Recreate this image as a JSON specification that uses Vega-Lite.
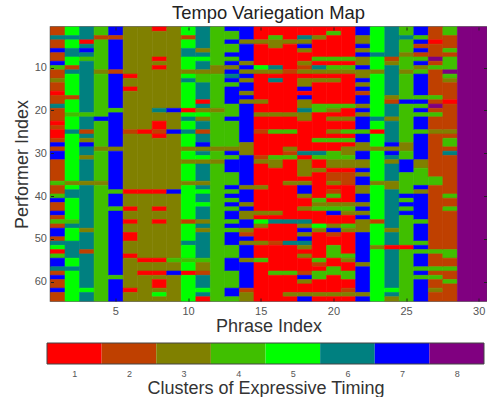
{"$schema":"https://vega.github.io/schema/vega-lite/v6.json","padding":{"left":12.5,"top":3,"right":0,"bottom":0},"spacing":6,"background":"white","config":{"font":"Liberation Sans"},"vconcat":[{"width":436,"height":274,"title":{"text":"Tempo Variegation Map","fontSize":18.4,"fontWeight":"normal","color":"#222222","font":"Liberation Sans","offset":4,"anchor":"middle"},"view":{"stroke":"#444444","strokeWidth":1.5},"resolve":{"axis":{"x":"independent","y":"independent"}},"layer":[{"data":{"values":[
{"p":1,"a":0.5,"b":2.5,"c":2},{"p":1,"a":2.5,"b":3.5,"c":6},{"p":1,"a":3.5,"b":5.5,"c":2},{"p":1,"a":5.5,"b":6.5,"c":7},{"p":1,"a":6.5,"b":8.5,"c":2},{"p":1,"a":8.5,"b":9.5,"c":7},{"p":1,"a":9.5,"b":10.5,"c":4},{"p":1,"a":10.5,"b":12.5,"c":2},{"p":1,"a":12.5,"b":13.5,"c":3},{"p":1,"a":13.5,"b":15.5,"c":2},{"p":1,"a":15.5,"b":16.5,"c":1},{"p":1,"a":16.5,"b":18.5,"c":2},{"p":1,"a":18.5,"b":19.5,"c":6},{"p":1,"a":19.5,"b":22.5,"c":2},{"p":1,"a":22.5,"b":23.5,"c":1},{"p":1,"a":23.5,"b":24.5,"c":2},{"p":1,"a":24.5,"b":26.5,"c":1},{"p":1,"a":26.5,"b":27.5,"c":2},{"p":1,"a":27.5,"b":28.5,"c":7},{"p":1,"a":28.5,"b":29.5,"c":2},{"p":1,"a":29.5,"b":31.5,"c":7},{"p":1,"a":31.5,"b":36.5,"c":2},{"p":1,"a":36.5,"b":37.5,"c":4},{"p":1,"a":37.5,"b":39.5,"c":2},{"p":1,"a":39.5,"b":40.5,"c":4},{"p":1,"a":40.5,"b":41.5,"c":7},{"p":1,"a":41.5,"b":43.5,"c":2},{"p":1,"a":43.5,"b":44.5,"c":7},{"p":1,"a":44.5,"b":45.5,"c":2},{"p":1,"a":45.5,"b":46.5,"c":4},{"p":1,"a":46.5,"b":47.5,"c":2},{"p":1,"a":47.5,"b":49.5,"c":7},{"p":1,"a":49.5,"b":50.5,"c":2},{"p":1,"a":50.5,"b":51.5,"c":6},{"p":1,"a":51.5,"b":52.5,"c":5},{"p":1,"a":52.5,"b":53.5,"c":1},{"p":1,"a":53.5,"b":54.5,"c":4},{"p":1,"a":54.5,"b":56.5,"c":7},{"p":1,"a":56.5,"b":57.5,"c":6},{"p":1,"a":57.5,"b":58.5,"c":2},{"p":1,"a":58.5,"b":59.5,"c":7},{"p":1,"a":59.5,"b":61.5,"c":2},{"p":1,"a":61.5,"b":62.5,"c":7},{"p":1,"a":62.5,"b":64.5,"c":2},
{"p":2,"a":0.5,"b":2.5,"c":5},{"p":2,"a":2.5,"b":3.5,"c":6},{"p":2,"a":3.5,"b":5.5,"c":5},{"p":2,"a":5.5,"b":7.5,"c":6},{"p":2,"a":7.5,"b":9.5,"c":5},{"p":2,"a":9.5,"b":10.5,"c":2},{"p":2,"a":10.5,"b":11.5,"c":6},{"p":2,"a":11.5,"b":16.5,"c":5},{"p":2,"a":16.5,"b":17.5,"c":2},{"p":2,"a":17.5,"b":20.5,"c":5},{"p":2,"a":20.5,"b":21.5,"c":4},{"p":2,"a":21.5,"b":24.5,"c":5},{"p":2,"a":24.5,"b":25.5,"c":6},{"p":2,"a":25.5,"b":36.5,"c":5},{"p":2,"a":36.5,"b":37.5,"c":3},{"p":2,"a":37.5,"b":38.5,"c":5},{"p":2,"a":38.5,"b":40.5,"c":6},{"p":2,"a":40.5,"b":45.5,"c":5},{"p":2,"a":45.5,"b":46.5,"c":4},{"p":2,"a":46.5,"b":47.5,"c":6},{"p":2,"a":47.5,"b":50.5,"c":5},{"p":2,"a":50.5,"b":54.5,"c":6},{"p":2,"a":54.5,"b":56.5,"c":5},{"p":2,"a":56.5,"b":57.5,"c":6},{"p":2,"a":57.5,"b":64.5,"c":5},
{"p":3,"a":0.5,"b":3.5,"c":6},{"p":3,"a":3.5,"b":4.5,"c":1},{"p":3,"a":4.5,"b":5.5,"c":6},{"p":3,"a":5.5,"b":6.5,"c":7},{"p":3,"a":6.5,"b":7.5,"c":6},{"p":3,"a":7.5,"b":8.5,"c":4},{"p":3,"a":8.5,"b":20.5,"c":6},{"p":3,"a":20.5,"b":21.5,"c":4},{"p":3,"a":21.5,"b":24.5,"c":6},{"p":3,"a":24.5,"b":25.5,"c":2},{"p":3,"a":25.5,"b":26.5,"c":6},{"p":3,"a":26.5,"b":27.5,"c":3},{"p":3,"a":27.5,"b":28.5,"c":7},{"p":3,"a":28.5,"b":30.5,"c":6},{"p":3,"a":30.5,"b":31.5,"c":3},{"p":3,"a":31.5,"b":36.5,"c":6},{"p":3,"a":36.5,"b":37.5,"c":3},{"p":3,"a":37.5,"b":47.5,"c":6},{"p":3,"a":47.5,"b":48.5,"c":3},{"p":3,"a":48.5,"b":52.5,"c":6},{"p":3,"a":52.5,"b":53.5,"c":2},{"p":3,"a":53.5,"b":61.5,"c":6},{"p":3,"a":61.5,"b":62.5,"c":5},{"p":3,"a":62.5,"b":64.5,"c":6},
{"p":4,"a":0.5,"b":2.5,"c":4},{"p":4,"a":2.5,"b":3.5,"c":2},{"p":4,"a":3.5,"b":10.5,"c":4},{"p":4,"a":10.5,"b":11.5,"c":3},{"p":4,"a":11.5,"b":21.5,"c":4},{"p":4,"a":21.5,"b":22.5,"c":7},{"p":4,"a":22.5,"b":28.5,"c":4},{"p":4,"a":28.5,"b":29.5,"c":3},{"p":4,"a":29.5,"b":36.5,"c":4},{"p":4,"a":36.5,"b":37.5,"c":3},{"p":4,"a":37.5,"b":64.5,"c":4},
{"p":5,"a":0.5,"b":2.5,"c":7},{"p":5,"a":2.5,"b":3.5,"c":2},{"p":5,"a":3.5,"b":10.5,"c":7},{"p":5,"a":10.5,"b":11.5,"c":2},{"p":5,"a":11.5,"b":19.5,"c":7},{"p":5,"a":19.5,"b":20.5,"c":4},{"p":5,"a":20.5,"b":28.5,"c":7},{"p":5,"a":28.5,"b":29.5,"c":3},{"p":5,"a":29.5,"b":38.5,"c":7},{"p":5,"a":38.5,"b":39.5,"c":4},{"p":5,"a":39.5,"b":42.5,"c":7},{"p":5,"a":42.5,"b":43.5,"c":4},{"p":5,"a":43.5,"b":58.5,"c":7},{"p":5,"a":58.5,"b":59.5,"c":4},{"p":5,"a":59.5,"b":64.5,"c":7},
{"p":6,"a":0.5,"b":11.5,"c":3},{"p":6,"a":11.5,"b":12.5,"c":1},{"p":6,"a":12.5,"b":14.5,"c":3},{"p":6,"a":14.5,"b":15.5,"c":1},{"p":6,"a":15.5,"b":24.5,"c":3},{"p":6,"a":24.5,"b":25.5,"c":2},{"p":6,"a":25.5,"b":38.5,"c":3},{"p":6,"a":38.5,"b":39.5,"c":1},{"p":6,"a":39.5,"b":42.5,"c":3},{"p":6,"a":42.5,"b":43.5,"c":1},{"p":6,"a":43.5,"b":45.5,"c":3},{"p":6,"a":45.5,"b":46.5,"c":1},{"p":6,"a":46.5,"b":48.5,"c":3},{"p":6,"a":48.5,"b":50.5,"c":1},{"p":6,"a":50.5,"b":53.5,"c":3},{"p":6,"a":53.5,"b":54.5,"c":1},{"p":6,"a":54.5,"b":61.5,"c":3},{"p":6,"a":61.5,"b":62.5,"c":1},{"p":6,"a":62.5,"b":64.5,"c":3},
{"p":7,"a":0.5,"b":24.5,"c":3},{"p":7,"a":24.5,"b":25.5,"c":1},{"p":7,"a":25.5,"b":38.5,"c":3},{"p":7,"a":38.5,"b":39.5,"c":1},{"p":7,"a":39.5,"b":54.5,"c":3},{"p":7,"a":54.5,"b":55.5,"c":1},{"p":7,"a":55.5,"b":57.5,"c":3},{"p":7,"a":57.5,"b":58.5,"c":1},{"p":7,"a":58.5,"b":64.5,"c":3},
{"p":8,"a":0.5,"b":1.5,"c":1},{"p":8,"a":1.5,"b":7.5,"c":3},{"p":8,"a":7.5,"b":8.5,"c":1},{"p":8,"a":8.5,"b":9.5,"c":3},{"p":8,"a":9.5,"b":10.5,"c":1},{"p":8,"a":10.5,"b":19.5,"c":3},{"p":8,"a":19.5,"b":20.5,"c":6},{"p":8,"a":20.5,"b":22.5,"c":3},{"p":8,"a":22.5,"b":24.5,"c":1},{"p":8,"a":24.5,"b":25.5,"c":2},{"p":8,"a":25.5,"b":26.5,"c":1},{"p":8,"a":26.5,"b":38.5,"c":3},{"p":8,"a":38.5,"b":39.5,"c":1},{"p":8,"a":39.5,"b":42.5,"c":3},{"p":8,"a":42.5,"b":43.5,"c":1},{"p":8,"a":43.5,"b":45.5,"c":3},{"p":8,"a":45.5,"b":46.5,"c":1},{"p":8,"a":46.5,"b":54.5,"c":3},{"p":8,"a":54.5,"b":55.5,"c":1},{"p":8,"a":55.5,"b":57.5,"c":3},{"p":8,"a":57.5,"b":58.5,"c":1},{"p":8,"a":58.5,"b":59.5,"c":3},{"p":8,"a":59.5,"b":61.5,"c":1},{"p":8,"a":61.5,"b":62.5,"c":3},{"p":8,"a":62.5,"b":63.5,"c":5},{"p":8,"a":63.5,"b":64.5,"c":3},
{"p":9,"a":0.5,"b":19.5,"c":3},{"p":9,"a":19.5,"b":20.5,"c":7},{"p":9,"a":20.5,"b":24.5,"c":3},{"p":9,"a":24.5,"b":25.5,"c":7},{"p":9,"a":25.5,"b":38.5,"c":3},{"p":9,"a":38.5,"b":39.5,"c":7},{"p":9,"a":39.5,"b":54.5,"c":3},{"p":9,"a":54.5,"b":55.5,"c":4},{"p":9,"a":55.5,"b":57.5,"c":3},{"p":9,"a":57.5,"b":58.5,"c":7},{"p":9,"a":58.5,"b":64.5,"c":3},
{"p":10,"a":0.5,"b":2.5,"c":5},{"p":10,"a":2.5,"b":3.5,"c":2},{"p":10,"a":3.5,"b":5.5,"c":5},{"p":10,"a":5.5,"b":7.5,"c":6},{"p":10,"a":7.5,"b":10.5,"c":5},{"p":10,"a":10.5,"b":11.5,"c":3},{"p":10,"a":11.5,"b":12.5,"c":5},{"p":10,"a":12.5,"b":13.5,"c":6},{"p":10,"a":13.5,"b":19.5,"c":5},{"p":10,"a":19.5,"b":20.5,"c":1},{"p":10,"a":20.5,"b":21.5,"c":5},{"p":10,"a":21.5,"b":22.5,"c":6},{"p":10,"a":22.5,"b":24.5,"c":5},{"p":10,"a":24.5,"b":25.5,"c":6},{"p":10,"a":25.5,"b":28.5,"c":5},{"p":10,"a":28.5,"b":29.5,"c":3},{"p":10,"a":29.5,"b":31.5,"c":5},{"p":10,"a":31.5,"b":32.5,"c":3},{"p":10,"a":32.5,"b":36.5,"c":5},{"p":10,"a":36.5,"b":37.5,"c":3},{"p":10,"a":37.5,"b":45.5,"c":5},{"p":10,"a":45.5,"b":46.5,"c":2},{"p":10,"a":46.5,"b":50.5,"c":5},{"p":10,"a":50.5,"b":51.5,"c":6},{"p":10,"a":51.5,"b":54.5,"c":5},{"p":10,"a":54.5,"b":55.5,"c":4},{"p":10,"a":55.5,"b":57.5,"c":5},{"p":10,"a":57.5,"b":58.5,"c":1},{"p":10,"a":58.5,"b":64.5,"c":5},
{"p":11,"a":0.5,"b":5.5,"c":6},{"p":11,"a":5.5,"b":6.5,"c":3},{"p":11,"a":6.5,"b":7.5,"c":6},{"p":11,"a":7.5,"b":8.5,"c":5},{"p":11,"a":8.5,"b":10.5,"c":6},{"p":11,"a":10.5,"b":11.5,"c":3},{"p":11,"a":11.5,"b":13.5,"c":4},{"p":11,"a":13.5,"b":17.5,"c":6},{"p":11,"a":17.5,"b":18.5,"c":1},{"p":11,"a":18.5,"b":19.5,"c":6},{"p":11,"a":19.5,"b":20.5,"c":3},{"p":11,"a":20.5,"b":21.5,"c":5},{"p":11,"a":21.5,"b":22.5,"c":3},{"p":11,"a":22.5,"b":24.5,"c":6},{"p":11,"a":24.5,"b":25.5,"c":2},{"p":11,"a":25.5,"b":27.5,"c":6},{"p":11,"a":27.5,"b":28.5,"c":7},{"p":11,"a":28.5,"b":29.5,"c":3},{"p":11,"a":29.5,"b":30.5,"c":6},{"p":11,"a":30.5,"b":31.5,"c":5},{"p":11,"a":31.5,"b":32.5,"c":3},{"p":11,"a":32.5,"b":36.5,"c":6},{"p":11,"a":36.5,"b":37.5,"c":3},{"p":11,"a":37.5,"b":38.5,"c":6},{"p":11,"a":38.5,"b":39.5,"c":5},{"p":11,"a":39.5,"b":41.5,"c":6},{"p":11,"a":41.5,"b":42.5,"c":5},{"p":11,"a":42.5,"b":45.5,"c":6},{"p":11,"a":45.5,"b":46.5,"c":3},{"p":11,"a":46.5,"b":47.5,"c":6},{"p":11,"a":47.5,"b":48.5,"c":3},{"p":11,"a":48.5,"b":54.5,"c":6},{"p":11,"a":54.5,"b":55.5,"c":4},{"p":11,"a":55.5,"b":57.5,"c":3},{"p":11,"a":57.5,"b":58.5,"c":2},{"p":11,"a":58.5,"b":61.5,"c":6},{"p":11,"a":61.5,"b":62.5,"c":5},{"p":11,"a":62.5,"b":63.5,"c":6},{"p":11,"a":63.5,"b":64.5,"c":1},
{"p":12,"a":0.5,"b":9.5,"c":4},{"p":12,"a":9.5,"b":11.5,"c":3},{"p":12,"a":11.5,"b":19.5,"c":4},{"p":12,"a":19.5,"b":20.5,"c":3},{"p":12,"a":20.5,"b":28.5,"c":4},{"p":12,"a":28.5,"b":29.5,"c":3},{"p":12,"a":29.5,"b":31.5,"c":4},{"p":12,"a":31.5,"b":32.5,"c":3},{"p":12,"a":32.5,"b":64.5,"c":4},
{"p":13,"a":0.5,"b":1.5,"c":7},{"p":13,"a":1.5,"b":3.5,"c":4},{"p":13,"a":3.5,"b":4.5,"c":7},{"p":13,"a":4.5,"b":6.5,"c":4},{"p":13,"a":6.5,"b":7.5,"c":7},{"p":13,"a":7.5,"b":8.5,"c":4},{"p":13,"a":8.5,"b":9.5,"c":7},{"p":13,"a":9.5,"b":10.5,"c":3},{"p":13,"a":10.5,"b":11.5,"c":7},{"p":13,"a":11.5,"b":12.5,"c":6},{"p":13,"a":12.5,"b":13.5,"c":7},{"p":13,"a":13.5,"b":14.5,"c":4},{"p":13,"a":14.5,"b":18.5,"c":7},{"p":13,"a":18.5,"b":21.5,"c":4},{"p":13,"a":21.5,"b":22.5,"c":7},{"p":13,"a":22.5,"b":28.5,"c":4},{"p":13,"a":28.5,"b":29.5,"c":3},{"p":13,"a":29.5,"b":30.5,"c":7},{"p":13,"a":30.5,"b":31.5,"c":4},{"p":13,"a":31.5,"b":34.5,"c":7},{"p":13,"a":34.5,"b":37.5,"c":4},{"p":13,"a":37.5,"b":38.5,"c":7},{"p":13,"a":38.5,"b":39.5,"c":4},{"p":13,"a":39.5,"b":40.5,"c":7},{"p":13,"a":40.5,"b":41.5,"c":4},{"p":13,"a":41.5,"b":42.5,"c":7},{"p":13,"a":42.5,"b":43.5,"c":4},{"p":13,"a":43.5,"b":45.5,"c":7},{"p":13,"a":45.5,"b":46.5,"c":4},{"p":13,"a":46.5,"b":47.5,"c":7},{"p":13,"a":47.5,"b":48.5,"c":4},{"p":13,"a":48.5,"b":51.5,"c":7},{"p":13,"a":51.5,"b":54.5,"c":4},{"p":13,"a":54.5,"b":57.5,"c":7},{"p":13,"a":57.5,"b":61.5,"c":4},{"p":13,"a":61.5,"b":63.5,"c":7},{"p":13,"a":63.5,"b":64.5,"c":4},
{"p":14,"a":0.5,"b":3.5,"c":7},{"p":14,"a":3.5,"b":4.5,"c":3},{"p":14,"a":4.5,"b":8.5,"c":7},{"p":14,"a":8.5,"b":9.5,"c":3},{"p":14,"a":9.5,"b":10.5,"c":7},{"p":14,"a":10.5,"b":11.5,"c":3},{"p":14,"a":11.5,"b":12.5,"c":7},{"p":14,"a":12.5,"b":13.5,"c":3},{"p":14,"a":13.5,"b":15.5,"c":7},{"p":14,"a":15.5,"b":16.5,"c":3},{"p":14,"a":16.5,"b":17.5,"c":7},{"p":14,"a":17.5,"b":18.5,"c":3},{"p":14,"a":18.5,"b":27.5,"c":7},{"p":14,"a":27.5,"b":30.5,"c":3},{"p":14,"a":30.5,"b":37.5,"c":7},{"p":14,"a":37.5,"b":38.5,"c":3},{"p":14,"a":38.5,"b":41.5,"c":7},{"p":14,"a":41.5,"b":42.5,"c":3},{"p":14,"a":42.5,"b":43.5,"c":7},{"p":14,"a":43.5,"b":45.5,"c":3},{"p":14,"a":45.5,"b":47.5,"c":7},{"p":14,"a":47.5,"b":48.5,"c":3},{"p":14,"a":48.5,"b":49.5,"c":2},{"p":14,"a":49.5,"b":50.5,"c":7},{"p":14,"a":50.5,"b":51.5,"c":3},{"p":14,"a":51.5,"b":54.5,"c":7},{"p":14,"a":54.5,"b":55.5,"c":3},{"p":14,"a":55.5,"b":61.5,"c":7},{"p":14,"a":61.5,"b":62.5,"c":2},{"p":14,"a":62.5,"b":64.5,"c":3},
{"p":15,"a":0.5,"b":3.5,"c":1},{"p":15,"a":3.5,"b":4.5,"c":3},{"p":15,"a":4.5,"b":9.5,"c":1},{"p":15,"a":9.5,"b":10.5,"c":5},{"p":15,"a":10.5,"b":11.5,"c":3},{"p":15,"a":11.5,"b":17.5,"c":1},{"p":15,"a":17.5,"b":18.5,"c":3},{"p":15,"a":18.5,"b":20.5,"c":1},{"p":15,"a":20.5,"b":21.5,"c":3},{"p":15,"a":21.5,"b":24.5,"c":1},{"p":15,"a":24.5,"b":25.5,"c":2},{"p":15,"a":25.5,"b":30.5,"c":1},{"p":15,"a":30.5,"b":31.5,"c":2},{"p":15,"a":31.5,"b":32.5,"c":3},{"p":15,"a":32.5,"b":37.5,"c":1},{"p":15,"a":37.5,"b":38.5,"c":3},{"p":15,"a":38.5,"b":43.5,"c":1},{"p":15,"a":43.5,"b":44.5,"c":3},{"p":15,"a":44.5,"b":45.5,"c":1},{"p":15,"a":45.5,"b":46.5,"c":5},{"p":15,"a":46.5,"b":47.5,"c":3},{"p":15,"a":47.5,"b":50.5,"c":1},{"p":15,"a":50.5,"b":51.5,"c":3},{"p":15,"a":51.5,"b":54.5,"c":1},{"p":15,"a":54.5,"b":55.5,"c":4},{"p":15,"a":55.5,"b":64.5,"c":1},
{"p":16,"a":0.5,"b":2.5,"c":1},{"p":16,"a":2.5,"b":3.5,"c":4},{"p":16,"a":3.5,"b":5.5,"c":3},{"p":16,"a":5.5,"b":9.5,"c":1},{"p":16,"a":9.5,"b":10.5,"c":6},{"p":16,"a":10.5,"b":11.5,"c":3},{"p":16,"a":11.5,"b":12.5,"c":1},{"p":16,"a":12.5,"b":13.5,"c":6},{"p":16,"a":13.5,"b":20.5,"c":1},{"p":16,"a":20.5,"b":21.5,"c":3},{"p":16,"a":21.5,"b":24.5,"c":1},{"p":16,"a":24.5,"b":25.5,"c":4},{"p":16,"a":25.5,"b":30.5,"c":1},{"p":16,"a":30.5,"b":31.5,"c":4},{"p":16,"a":31.5,"b":33.5,"c":3},{"p":16,"a":33.5,"b":43.5,"c":1},{"p":16,"a":43.5,"b":44.5,"c":3},{"p":16,"a":44.5,"b":45.5,"c":1},{"p":16,"a":45.5,"b":46.5,"c":6},{"p":16,"a":46.5,"b":50.5,"c":1},{"p":16,"a":50.5,"b":51.5,"c":2},{"p":16,"a":51.5,"b":57.5,"c":1},{"p":16,"a":57.5,"b":58.5,"c":4},{"p":16,"a":58.5,"b":64.5,"c":1},
{"p":17,"a":0.5,"b":3.5,"c":1},{"p":17,"a":3.5,"b":4.5,"c":3},{"p":17,"a":4.5,"b":10.5,"c":1},{"p":17,"a":10.5,"b":11.5,"c":2},{"p":17,"a":11.5,"b":20.5,"c":1},{"p":17,"a":20.5,"b":21.5,"c":3},{"p":17,"a":21.5,"b":24.5,"c":1},{"p":17,"a":24.5,"b":25.5,"c":4},{"p":17,"a":25.5,"b":28.5,"c":1},{"p":17,"a":28.5,"b":29.5,"c":3},{"p":17,"a":29.5,"b":30.5,"c":2},{"p":17,"a":30.5,"b":31.5,"c":4},{"p":17,"a":31.5,"b":36.5,"c":1},{"p":17,"a":36.5,"b":37.5,"c":3},{"p":17,"a":37.5,"b":45.5,"c":1},{"p":17,"a":45.5,"b":46.5,"c":6},{"p":17,"a":46.5,"b":50.5,"c":1},{"p":17,"a":50.5,"b":51.5,"c":6},{"p":17,"a":51.5,"b":57.5,"c":1},{"p":17,"a":57.5,"b":58.5,"c":4},{"p":17,"a":58.5,"b":62.5,"c":1},{"p":17,"a":62.5,"b":63.5,"c":3},{"p":17,"a":63.5,"b":64.5,"c":1},
{"p":18,"a":0.5,"b":2.5,"c":1},{"p":18,"a":2.5,"b":3.5,"c":6},{"p":18,"a":3.5,"b":4.5,"c":3},{"p":18,"a":4.5,"b":5.5,"c":7},{"p":18,"a":5.5,"b":6.5,"c":3},{"p":18,"a":6.5,"b":8.5,"c":1},{"p":18,"a":8.5,"b":9.5,"c":3},{"p":18,"a":9.5,"b":10.5,"c":2},{"p":18,"a":10.5,"b":11.5,"c":3},{"p":18,"a":11.5,"b":12.5,"c":1},{"p":18,"a":12.5,"b":14.5,"c":3},{"p":18,"a":14.5,"b":15.5,"c":7},{"p":18,"a":15.5,"b":16.5,"c":1},{"p":18,"a":16.5,"b":17.5,"c":7},{"p":18,"a":17.5,"b":19.5,"c":3},{"p":18,"a":19.5,"b":20.5,"c":6},{"p":18,"a":20.5,"b":22.5,"c":3},{"p":18,"a":22.5,"b":29.5,"c":1},{"p":18,"a":29.5,"b":30.5,"c":6},{"p":18,"a":30.5,"b":31.5,"c":1},{"p":18,"a":31.5,"b":35.5,"c":3},{"p":18,"a":35.5,"b":36.5,"c":1},{"p":18,"a":36.5,"b":37.5,"c":3},{"p":18,"a":37.5,"b":39.5,"c":7},{"p":18,"a":39.5,"b":40.5,"c":3},{"p":18,"a":40.5,"b":42.5,"c":1},{"p":18,"a":42.5,"b":43.5,"c":3},{"p":18,"a":43.5,"b":45.5,"c":1},{"p":18,"a":45.5,"b":46.5,"c":6},{"p":18,"a":46.5,"b":47.5,"c":3},{"p":18,"a":47.5,"b":48.5,"c":7},{"p":18,"a":48.5,"b":49.5,"c":3},{"p":18,"a":49.5,"b":50.5,"c":7},{"p":18,"a":50.5,"b":51.5,"c":6},{"p":18,"a":51.5,"b":52.5,"c":3},{"p":18,"a":52.5,"b":53.5,"c":1},{"p":18,"a":53.5,"b":54.5,"c":3},{"p":18,"a":54.5,"b":57.5,"c":1},{"p":18,"a":57.5,"b":58.5,"c":2},{"p":18,"a":58.5,"b":59.5,"c":7},{"p":18,"a":59.5,"b":60.5,"c":3},{"p":18,"a":60.5,"b":62.5,"c":1},{"p":18,"a":62.5,"b":63.5,"c":3},{"p":18,"a":63.5,"b":64.5,"c":7},
{"p":19,"a":0.5,"b":2.5,"c":1},{"p":19,"a":2.5,"b":3.5,"c":3},{"p":19,"a":3.5,"b":7.5,"c":1},{"p":19,"a":7.5,"b":8.5,"c":4},{"p":19,"a":8.5,"b":9.5,"c":1},{"p":19,"a":9.5,"b":10.5,"c":6},{"p":19,"a":10.5,"b":11.5,"c":3},{"p":19,"a":11.5,"b":12.5,"c":1},{"p":19,"a":12.5,"b":13.5,"c":3},{"p":19,"a":13.5,"b":18.5,"c":1},{"p":19,"a":18.5,"b":20.5,"c":4},{"p":19,"a":20.5,"b":26.5,"c":1},{"p":19,"a":26.5,"b":27.5,"c":4},{"p":19,"a":27.5,"b":29.5,"c":1},{"p":19,"a":29.5,"b":30.5,"c":6},{"p":19,"a":30.5,"b":31.5,"c":4},{"p":19,"a":31.5,"b":33.5,"c":1},{"p":19,"a":33.5,"b":34.5,"c":3},{"p":19,"a":34.5,"b":40.5,"c":1},{"p":19,"a":40.5,"b":41.5,"c":4},{"p":19,"a":41.5,"b":42.5,"c":3},{"p":19,"a":42.5,"b":43.5,"c":4},{"p":19,"a":43.5,"b":46.5,"c":1},{"p":19,"a":46.5,"b":47.5,"c":5},{"p":19,"a":47.5,"b":48.5,"c":3},{"p":19,"a":48.5,"b":54.5,"c":1},{"p":19,"a":54.5,"b":55.5,"c":4},{"p":19,"a":55.5,"b":56.5,"c":2},{"p":19,"a":56.5,"b":57.5,"c":1},{"p":19,"a":57.5,"b":59.5,"c":4},{"p":19,"a":59.5,"b":62.5,"c":1},{"p":19,"a":62.5,"b":63.5,"c":3},{"p":19,"a":63.5,"b":64.5,"c":1},
{"p":20,"a":0.5,"b":1.5,"c":1},{"p":20,"a":1.5,"b":2.5,"c":4},{"p":20,"a":2.5,"b":7.5,"c":1},{"p":20,"a":7.5,"b":8.5,"c":4},{"p":20,"a":8.5,"b":9.5,"c":1},{"p":20,"a":9.5,"b":10.5,"c":4},{"p":20,"a":10.5,"b":11.5,"c":3},{"p":20,"a":11.5,"b":12.5,"c":1},{"p":20,"a":12.5,"b":13.5,"c":3},{"p":20,"a":13.5,"b":18.5,"c":1},{"p":20,"a":18.5,"b":19.5,"c":4},{"p":20,"a":19.5,"b":20.5,"c":3},{"p":20,"a":20.5,"b":21.5,"c":1},{"p":20,"a":21.5,"b":22.5,"c":3},{"p":20,"a":22.5,"b":24.5,"c":1},{"p":20,"a":24.5,"b":25.5,"c":3},{"p":20,"a":25.5,"b":26.5,"c":1},{"p":20,"a":26.5,"b":27.5,"c":4},{"p":20,"a":27.5,"b":29.5,"c":1},{"p":20,"a":29.5,"b":31.5,"c":4},{"p":20,"a":31.5,"b":33.5,"c":3},{"p":20,"a":33.5,"b":34.5,"c":1},{"p":20,"a":34.5,"b":36.5,"c":2},{"p":20,"a":36.5,"b":37.5,"c":3},{"p":20,"a":37.5,"b":38.5,"c":1},{"p":20,"a":38.5,"b":39.5,"c":2},{"p":20,"a":39.5,"b":40.5,"c":4},{"p":20,"a":40.5,"b":41.5,"c":1},{"p":20,"a":41.5,"b":42.5,"c":3},{"p":20,"a":42.5,"b":43.5,"c":4},{"p":20,"a":43.5,"b":44.5,"c":7},{"p":20,"a":44.5,"b":46.5,"c":1},{"p":20,"a":46.5,"b":47.5,"c":3},{"p":20,"a":47.5,"b":48.5,"c":7},{"p":20,"a":48.5,"b":49.5,"c":2},{"p":20,"a":49.5,"b":51.5,"c":1},{"p":20,"a":51.5,"b":54.5,"c":4},{"p":20,"a":54.5,"b":56.5,"c":1},{"p":20,"a":56.5,"b":58.5,"c":4},{"p":20,"a":58.5,"b":62.5,"c":1},{"p":20,"a":62.5,"b":63.5,"c":3},{"p":20,"a":63.5,"b":64.5,"c":1},
{"p":21,"a":0.5,"b":7.5,"c":1},{"p":21,"a":7.5,"b":8.5,"c":4},{"p":21,"a":8.5,"b":9.5,"c":1},{"p":21,"a":9.5,"b":10.5,"c":4},{"p":21,"a":10.5,"b":11.5,"c":3},{"p":21,"a":11.5,"b":18.5,"c":1},{"p":21,"a":18.5,"b":19.5,"c":4},{"p":21,"a":19.5,"b":21.5,"c":1},{"p":21,"a":21.5,"b":22.5,"c":3},{"p":21,"a":22.5,"b":24.5,"c":1},{"p":21,"a":24.5,"b":25.5,"c":4},{"p":21,"a":25.5,"b":26.5,"c":1},{"p":21,"a":26.5,"b":27.5,"c":4},{"p":21,"a":27.5,"b":28.5,"c":1},{"p":21,"a":28.5,"b":30.5,"c":3},{"p":21,"a":30.5,"b":31.5,"c":4},{"p":21,"a":31.5,"b":33.5,"c":3},{"p":21,"a":33.5,"b":34.5,"c":1},{"p":21,"a":34.5,"b":37.5,"c":2},{"p":21,"a":37.5,"b":41.5,"c":1},{"p":21,"a":41.5,"b":42.5,"c":3},{"p":21,"a":42.5,"b":43.5,"c":4},{"p":21,"a":43.5,"b":44.5,"c":3},{"p":21,"a":44.5,"b":46.5,"c":1},{"p":21,"a":46.5,"b":47.5,"c":4},{"p":21,"a":47.5,"b":48.5,"c":3},{"p":21,"a":48.5,"b":53.5,"c":1},{"p":21,"a":53.5,"b":54.5,"c":4},{"p":21,"a":54.5,"b":55.5,"c":3},{"p":21,"a":55.5,"b":57.5,"c":1},{"p":21,"a":57.5,"b":59.5,"c":4},{"p":21,"a":59.5,"b":61.5,"c":1},{"p":21,"a":61.5,"b":62.5,"c":2},{"p":21,"a":62.5,"b":63.5,"c":3},{"p":21,"a":63.5,"b":64.5,"c":1},
{"p":22,"a":0.5,"b":2.5,"c":7},{"p":22,"a":2.5,"b":4.5,"c":3},{"p":22,"a":4.5,"b":5.5,"c":7},{"p":22,"a":5.5,"b":6.5,"c":3},{"p":22,"a":6.5,"b":7.5,"c":7},{"p":22,"a":7.5,"b":9.5,"c":3},{"p":22,"a":9.5,"b":10.5,"c":7},{"p":22,"a":10.5,"b":12.5,"c":3},{"p":22,"a":12.5,"b":13.5,"c":7},{"p":22,"a":13.5,"b":14.5,"c":3},{"p":22,"a":14.5,"b":15.5,"c":7},{"p":22,"a":15.5,"b":16.5,"c":2},{"p":22,"a":16.5,"b":18.5,"c":7},{"p":22,"a":18.5,"b":19.5,"c":3},{"p":22,"a":19.5,"b":20.5,"c":7},{"p":22,"a":20.5,"b":21.5,"c":3},{"p":22,"a":21.5,"b":24.5,"c":7},{"p":22,"a":24.5,"b":25.5,"c":4},{"p":22,"a":25.5,"b":27.5,"c":7},{"p":22,"a":27.5,"b":29.5,"c":3},{"p":22,"a":29.5,"b":31.5,"c":7},{"p":22,"a":31.5,"b":33.5,"c":3},{"p":22,"a":33.5,"b":34.5,"c":7},{"p":22,"a":34.5,"b":35.5,"c":3},{"p":22,"a":35.5,"b":37.5,"c":7},{"p":22,"a":37.5,"b":39.5,"c":3},{"p":22,"a":39.5,"b":41.5,"c":7},{"p":22,"a":41.5,"b":42.5,"c":3},{"p":22,"a":42.5,"b":43.5,"c":7},{"p":22,"a":43.5,"b":44.5,"c":3},{"p":22,"a":44.5,"b":45.5,"c":7},{"p":22,"a":45.5,"b":48.5,"c":3},{"p":22,"a":48.5,"b":55.5,"c":7},{"p":22,"a":55.5,"b":56.5,"c":3},{"p":22,"a":56.5,"b":62.5,"c":7},{"p":22,"a":62.5,"b":63.5,"c":3},{"p":22,"a":63.5,"b":64.5,"c":7},
{"p":23,"a":0.5,"b":6.5,"c":5},{"p":23,"a":6.5,"b":7.5,"c":6},{"p":23,"a":7.5,"b":10.5,"c":5},{"p":23,"a":10.5,"b":11.5,"c":3},{"p":23,"a":11.5,"b":21.5,"c":5},{"p":23,"a":21.5,"b":22.5,"c":6},{"p":23,"a":22.5,"b":24.5,"c":5},{"p":23,"a":24.5,"b":25.5,"c":1},{"p":23,"a":25.5,"b":28.5,"c":5},{"p":23,"a":28.5,"b":29.5,"c":3},{"p":23,"a":29.5,"b":36.5,"c":5},{"p":23,"a":36.5,"b":37.5,"c":3},{"p":23,"a":37.5,"b":45.5,"c":5},{"p":23,"a":45.5,"b":46.5,"c":2},{"p":23,"a":46.5,"b":51.5,"c":5},{"p":23,"a":51.5,"b":52.5,"c":3},{"p":23,"a":52.5,"b":64.5,"c":5},
{"p":24,"a":0.5,"b":7.5,"c":6},{"p":24,"a":7.5,"b":8.5,"c":2},{"p":24,"a":8.5,"b":9.5,"c":3},{"p":24,"a":9.5,"b":16.5,"c":6},{"p":24,"a":16.5,"b":17.5,"c":3},{"p":24,"a":17.5,"b":18.5,"c":2},{"p":24,"a":18.5,"b":21.5,"c":6},{"p":24,"a":21.5,"b":22.5,"c":3},{"p":24,"a":22.5,"b":27.5,"c":6},{"p":24,"a":27.5,"b":28.5,"c":7},{"p":24,"a":28.5,"b":29.5,"c":3},{"p":24,"a":29.5,"b":30.5,"c":7},{"p":24,"a":30.5,"b":31.5,"c":6},{"p":24,"a":31.5,"b":32.5,"c":3},{"p":24,"a":32.5,"b":36.5,"c":6},{"p":24,"a":36.5,"b":38.5,"c":3},{"p":24,"a":38.5,"b":47.5,"c":6},{"p":24,"a":47.5,"b":48.5,"c":3},{"p":24,"a":48.5,"b":51.5,"c":6},{"p":24,"a":51.5,"b":52.5,"c":1},{"p":24,"a":52.5,"b":61.5,"c":6},{"p":24,"a":61.5,"b":62.5,"c":5},{"p":24,"a":62.5,"b":63.5,"c":6},{"p":24,"a":63.5,"b":64.5,"c":3},
{"p":25,"a":0.5,"b":2.5,"c":4},{"p":25,"a":2.5,"b":3.5,"c":6},{"p":25,"a":3.5,"b":6.5,"c":4},{"p":25,"a":6.5,"b":7.5,"c":3},{"p":25,"a":7.5,"b":10.5,"c":4},{"p":25,"a":10.5,"b":11.5,"c":3},{"p":25,"a":11.5,"b":17.5,"c":4},{"p":25,"a":17.5,"b":18.5,"c":7},{"p":25,"a":18.5,"b":27.5,"c":4},{"p":25,"a":27.5,"b":29.5,"c":3},{"p":25,"a":29.5,"b":31.5,"c":4},{"p":25,"a":31.5,"b":34.5,"c":7},{"p":25,"a":34.5,"b":39.5,"c":4},{"p":25,"a":39.5,"b":40.5,"c":7},{"p":25,"a":40.5,"b":41.5,"c":4},{"p":25,"a":41.5,"b":42.5,"c":7},{"p":25,"a":42.5,"b":43.5,"c":4},{"p":25,"a":43.5,"b":44.5,"c":7},{"p":25,"a":44.5,"b":51.5,"c":4},{"p":25,"a":51.5,"b":52.5,"c":1},{"p":25,"a":52.5,"b":64.5,"c":4},
{"p":26,"a":0.5,"b":2.5,"c":7},{"p":26,"a":2.5,"b":3.5,"c":4},{"p":26,"a":3.5,"b":4.5,"c":7},{"p":26,"a":4.5,"b":5.5,"c":2},{"p":26,"a":5.5,"b":6.5,"c":7},{"p":26,"a":6.5,"b":7.5,"c":2},{"p":26,"a":7.5,"b":8.5,"c":4},{"p":26,"a":8.5,"b":9.5,"c":7},{"p":26,"a":9.5,"b":10.5,"c":3},{"p":26,"a":10.5,"b":11.5,"c":4},{"p":26,"a":11.5,"b":16.5,"c":7},{"p":26,"a":16.5,"b":17.5,"c":4},{"p":26,"a":17.5,"b":18.5,"c":7},{"p":26,"a":18.5,"b":19.5,"c":4},{"p":26,"a":19.5,"b":20.5,"c":7},{"p":26,"a":20.5,"b":21.5,"c":4},{"p":26,"a":21.5,"b":24.5,"c":7},{"p":26,"a":24.5,"b":25.5,"c":4},{"p":26,"a":25.5,"b":31.5,"c":7},{"p":26,"a":31.5,"b":33.5,"c":3},{"p":26,"a":33.5,"b":37.5,"c":4},{"p":26,"a":37.5,"b":38.5,"c":7},{"p":26,"a":38.5,"b":39.5,"c":3},{"p":26,"a":39.5,"b":45.5,"c":7},{"p":26,"a":45.5,"b":46.5,"c":4},{"p":26,"a":46.5,"b":50.5,"c":7},{"p":26,"a":50.5,"b":51.5,"c":4},{"p":26,"a":51.5,"b":52.5,"c":7},{"p":26,"a":52.5,"b":53.5,"c":4},{"p":26,"a":53.5,"b":56.5,"c":7},{"p":26,"a":56.5,"b":57.5,"c":4},{"p":26,"a":57.5,"b":58.5,"c":7},{"p":26,"a":58.5,"b":59.5,"c":4},{"p":26,"a":59.5,"b":64.5,"c":7},
{"p":27,"a":0.5,"b":3.5,"c":2},{"p":27,"a":3.5,"b":4.5,"c":1},{"p":27,"a":4.5,"b":7.5,"c":2},{"p":27,"a":7.5,"b":8.5,"c":8},{"p":27,"a":8.5,"b":9.5,"c":2},{"p":27,"a":9.5,"b":10.5,"c":4},{"p":27,"a":10.5,"b":16.5,"c":2},{"p":27,"a":16.5,"b":17.5,"c":4},{"p":27,"a":17.5,"b":18.5,"c":2},{"p":27,"a":18.5,"b":19.5,"c":8},{"p":27,"a":19.5,"b":20.5,"c":2},{"p":27,"a":20.5,"b":21.5,"c":4},{"p":27,"a":21.5,"b":24.5,"c":2},{"p":27,"a":24.5,"b":25.5,"c":3},{"p":27,"a":25.5,"b":35.5,"c":2},{"p":27,"a":35.5,"b":37.5,"c":4},{"p":27,"a":37.5,"b":52.5,"c":2},{"p":27,"a":52.5,"b":53.5,"c":4},{"p":27,"a":53.5,"b":56.5,"c":2},{"p":27,"a":56.5,"b":57.5,"c":4},{"p":27,"a":57.5,"b":58.5,"c":2},{"p":27,"a":58.5,"b":59.5,"c":4},{"p":27,"a":59.5,"b":61.5,"c":2},{"p":27,"a":61.5,"b":62.5,"c":3},{"p":27,"a":62.5,"b":64.5,"c":2},
{"p":28,"a":0.5,"b":2.5,"c":4},{"p":28,"a":2.5,"b":5.5,"c":2},{"p":28,"a":5.5,"b":6.5,"c":4},{"p":28,"a":6.5,"b":7.5,"c":2},{"p":28,"a":7.5,"b":10.5,"c":4},{"p":28,"a":10.5,"b":11.5,"c":8},{"p":28,"a":11.5,"b":12.5,"c":4},{"p":28,"a":12.5,"b":13.5,"c":3},{"p":28,"a":13.5,"b":17.5,"c":2},{"p":28,"a":17.5,"b":18.5,"c":1},{"p":28,"a":18.5,"b":24.5,"c":2},{"p":28,"a":24.5,"b":25.5,"c":3},{"p":28,"a":25.5,"b":26.5,"c":2},{"p":28,"a":26.5,"b":28.5,"c":4},{"p":28,"a":28.5,"b":29.5,"c":2},{"p":28,"a":29.5,"b":30.5,"c":6},{"p":28,"a":30.5,"b":39.5,"c":2},{"p":28,"a":39.5,"b":40.5,"c":4},{"p":28,"a":40.5,"b":42.5,"c":2},{"p":28,"a":42.5,"b":43.5,"c":4},{"p":28,"a":43.5,"b":52.5,"c":2},{"p":28,"a":52.5,"b":54.5,"c":4},{"p":28,"a":54.5,"b":56.5,"c":2},{"p":28,"a":56.5,"b":57.5,"c":4},{"p":28,"a":57.5,"b":59.5,"c":2},{"p":28,"a":59.5,"b":60.5,"c":4},{"p":28,"a":60.5,"b":64.5,"c":2},
{"p":29,"a":0.5,"b":64.5,"c":8},{"p":30,"a":0.5,"b":64.5,"c":8}
]},"mark":{"type":"rect","strokeWidth":0.6},"encoding":{"x":{"field":"p","type":"ordinal","sort":"ascending","scale":{"domain":[1,2,3,4,5,6,7,8,9,10,11,12,13,14,15,16,17,18,19,20,21,22,23,24,25,26,27,28,29,30],"paddingInner":0,"paddingOuter":0},"axis":{"values":[5,10,15,20,25,30],"labelAngle":0,"tickSize":-3,"tickColor":"#222222","labelPadding":7,"labelFontSize":11,"labelColor":"#555555","domain":false,"title":"Phrase Index","titleFontSize":18,"titleFontWeight":"normal","titleColor":"#333333","titlePadding":1,"zindex":1}},"y":{"field":"a","type":"quantitative","scale":{"domain":[0.5,64.5],"reverse":true,"nice":false,"zero":false},"axis":{"values":[10,20,30,40,50,60],"tickSize":-3,"tickColor":"#222222","labelPadding":7,"labelFontSize":11,"labelColor":"#555555","domain":false,"grid":false,"title":"Performer Index","titleFontSize":18,"titleFontWeight":"normal","titleColor":"#333333","titlePadding":3,"zindex":1}},"y2":{"field":"b"},"color":{"field":"c","type":"ordinal","scale":{"domain":[1,2,3,4,5,6,7,8],"range":["#ff0000","#bf4000","#808000","#40bf00","#00ff00","#008080","#0000ff","#800080"]},"legend":null},"stroke":{"field":"c","type":"ordinal","scale":{"domain":[1,2,3,4,5,6,7,8],"range":["#ff0000","#bf4000","#808000","#40bf00","#00ff00","#008080","#0000ff","#800080"]},"legend":null}}},
{"data":{"values":[{"p":5,"a":10},{"p":10,"a":20},{"p":15,"a":30},{"p":20,"a":40},{"p":25,"a":50},{"p":30,"a":60}]},"mark":{"type":"point","opacity":0},"encoding":{"x":{"field":"p","type":"ordinal","axis":{"orient":"top","values":[5,10,15,20,25,30],"labels":false,"domain":false,"title":null,"tickSize":-3,"tickColor":"#222222","zindex":1}},"y":{"field":"a","type":"quantitative","axis":{"orient":"right","values":[10,20,30,40,50,60],"labels":false,"domain":false,"grid":false,"title":null,"tickSize":-3,"tickColor":"#222222","zindex":1}}}}]},
{"width":436,"height":21,"view":{"stroke":null},"layer":[{"data":{"values":[{"k":1,"l":0.5,"r":1.5},{"k":2,"l":1.5,"r":2.5},{"k":3,"l":2.5,"r":3.5},{"k":4,"l":3.5,"r":4.5},{"k":5,"l":4.5,"r":5.5},{"k":6,"l":5.5,"r":6.5},{"k":7,"l":6.5,"r":7.5},{"k":8,"l":7.5,"r":8.5}]},"mark":{"type":"rect"},"encoding":{"x":{"field":"l","type":"quantitative","scale":{"domain":[0.5,8.5],"range":[-3.5,433.5],"nice":false,"zero":false},"axis":{"values":[1,2,3,4,5,6,7,8],"format":"d","ticks":false,"domain":false,"grid":false,"labelPadding":5,"labelFontSize":9,"labelColor":"#555555","title":"Clusters of Expressive Timing","titleFontSize":18,"titleFontWeight":"normal","titleColor":"#333333","titlePadding":1}},"x2":{"field":"r"},"color":{"field":"k","type":"ordinal","scale":{"domain":[1,2,3,4,5,6,7,8],"range":["#ff0000","#bf4000","#808000","#40bf00","#00ff00","#008080","#0000ff","#800080"]},"legend":null}}},{"data":{"values":[{"l":0.5,"r":8.5}]},"mark":{"type":"rect","fill":null,"fillOpacity":0,"stroke":"#444444","strokeWidth":1},"encoding":{"x":{"field":"l","type":"quantitative"},"x2":{"field":"r"}}}]}
]}
